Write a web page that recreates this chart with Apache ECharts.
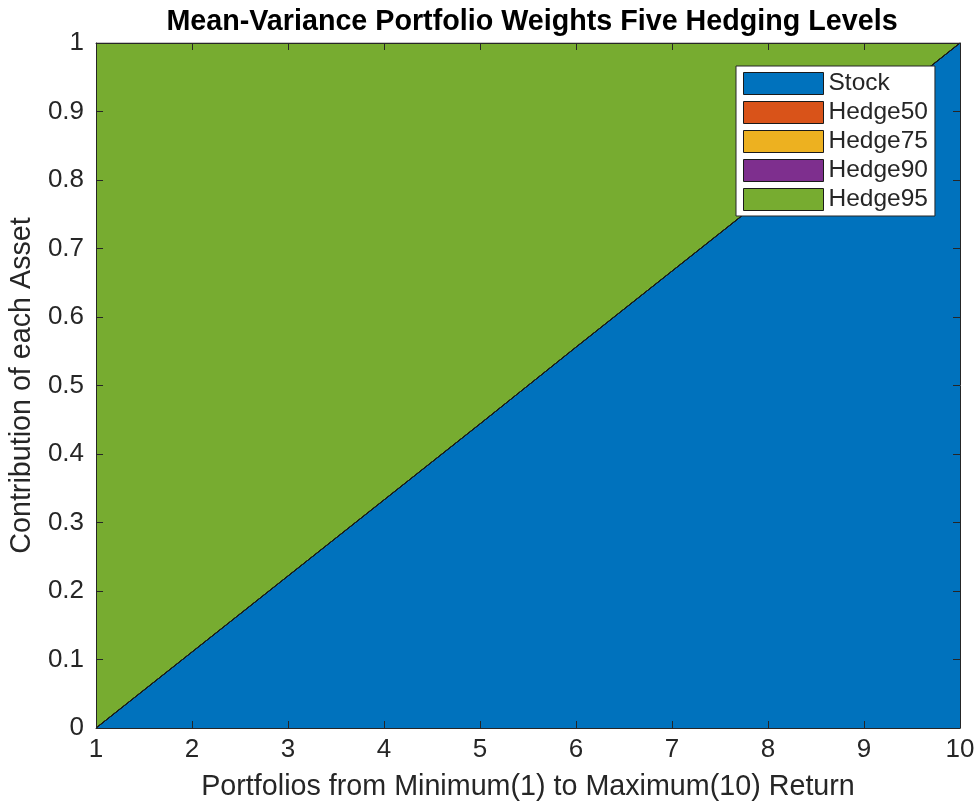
<!DOCTYPE html>
<html>
<head>
<meta charset="utf-8">
<script src="https://cdn.jsdelivr.net/npm/echarts@6/dist/echarts.min.js"></script>
<style>html,body{margin:0;padding:0;background:#fff;}#c{width:979px;height:807px;}</style>
</head>
<body>
<div id="c"></div>
<script>
const xValues = ['1', '2', '3', '4', '5', '6', '7', '8', '9', '10'];
const stock   = [0, 0.111, 0.222, 0.333, 0.444, 0.556, 0.667, 0.778, 0.889, 1.0];
const hedge50 = [0, 0, 0, 0, 0, 0, 0, 0, 0, 0];
const hedge75 = [0, 0, 0, 0, 0, 0, 0, 0, 0, 0];
const hedge90 = [0, 0, 0, 0, 0, 0, 0, 0, 0, 0];
const hedge95 = [1.0, 0.889, 0.778, 0.667, 0.556, 0.444, 0.333, 0.222, 0.111, 0];
const seriesNames = ['Stock', 'Hedge50', 'Hedge75', 'Hedge90', 'Hedge95'];
const seriesColors = ['#0072BD', '#D95319', '#EDB120', '#7E2F8E', '#77AC30'];
const seriesValues = [stock, hedge50, hedge75, hedge90, hedge95];

const font = 'Liberation Sans, Arial, Helvetica, sans-serif';
const axisColor = '#262626';
const chart = echarts.init(document.getElementById('c'), null, {renderer: 'canvas'});

const series = seriesNames.map((name, i) => ({
  name: name,
  type: 'line',
  stack: 'total',
  symbol: 'none',
  color: seriesColors[i],
  lineStyle: {color: '#1a1a1a', width: 1},
  areaStyle: {color: seriesColors[i], opacity: 1},
  itemStyle: {color: seriesColors[i]},
  data: seriesValues[i]
}));

const gridL = 95, gridR = 19, gridT = 43, gridB = 79;

const xBase = {
  type: 'category', data: xValues, boundaryGap: false,
  axisLine: {show: true, onZero: false, lineStyle: {color: axisColor, width: 1}},
  axisTick: {show: true, inside: true, length: 7, alignWithLabel: true, lineStyle: {color: axisColor}},
  splitLine: {show: false},
  z: 10
};
const yBase = {
  type: 'value', min: 0, max: 1, interval: 0.1,
  axisLine: {show: true, onZero: false, lineStyle: {color: axisColor, width: 1}},
  axisTick: {show: true, inside: true, length: 7, lineStyle: {color: axisColor}},
  splitLine: {show: false},
  z: 10
};

chart.setOption({
  animation: false,
  backgroundColor: '#fff',
  title: {
    text: 'Mean-Variance Portfolio Weights Five Hedging Levels',
    left: 527, top: 3, textAlign: 'center',
    textStyle: {fontFamily: font, fontSize: 28.7, fontWeight: 'bold', color: '#000'}
  },
  grid: {left: gridL, right: gridR, top: gridT, bottom: gridB, show: false},
  legend: {
    orient: 'vertical',
    left: 736, top: 66,
    padding: [5, 7, 4, 7],
    itemGap: 4,
    itemWidth: 80, itemHeight: 22,
    icon: 'rect',
    backgroundColor: '#fff',
    borderColor: '#262626', borderWidth: 1,
    selectedMode: false,
    z: 20,
    itemStyle: {borderColor: '#1a1a1a', borderWidth: 1},
    textStyle: {fontFamily: font, fontSize: 24.5, color: '#262626'},
    data: seriesNames.map((n, i) => ({name: n, itemStyle: {color: seriesColors[i], borderColor: '#1a1a1a', borderWidth: 1}}))
  },
  xAxis: [Object.assign({}, xBase, {
    position: 'bottom',
    name: 'Portfolios from Minimum(1) to Maximum(10) Return',
    nameLocation: 'middle', nameGap: 45,
    nameTextStyle: {fontFamily: font, fontSize: 28.7, color: axisColor},
    axisLabel: {fontFamily: font, fontSize: 26, color: axisColor, margin: 9}
  }), Object.assign({}, xBase, {
    position: 'top',
    axisLabel: {show: false}
  })],
  yAxis: [Object.assign({}, yBase, {
    position: 'left',
    name: 'Contribution of each Asset',
    nameLocation: 'middle', nameGap: 59, nameRotate: 90,
    nameTextStyle: {fontFamily: font, fontSize: 28.7, color: axisColor},
    axisLabel: {fontFamily: font, fontSize: 26, color: axisColor, margin: 12,
      formatter: v => String(Math.round(v * 10) / 10)}
  }), Object.assign({}, yBase, {
    position: 'right',
    axisLabel: {show: false}
  })],
  series: series
});
</script>
</body>
</html>
